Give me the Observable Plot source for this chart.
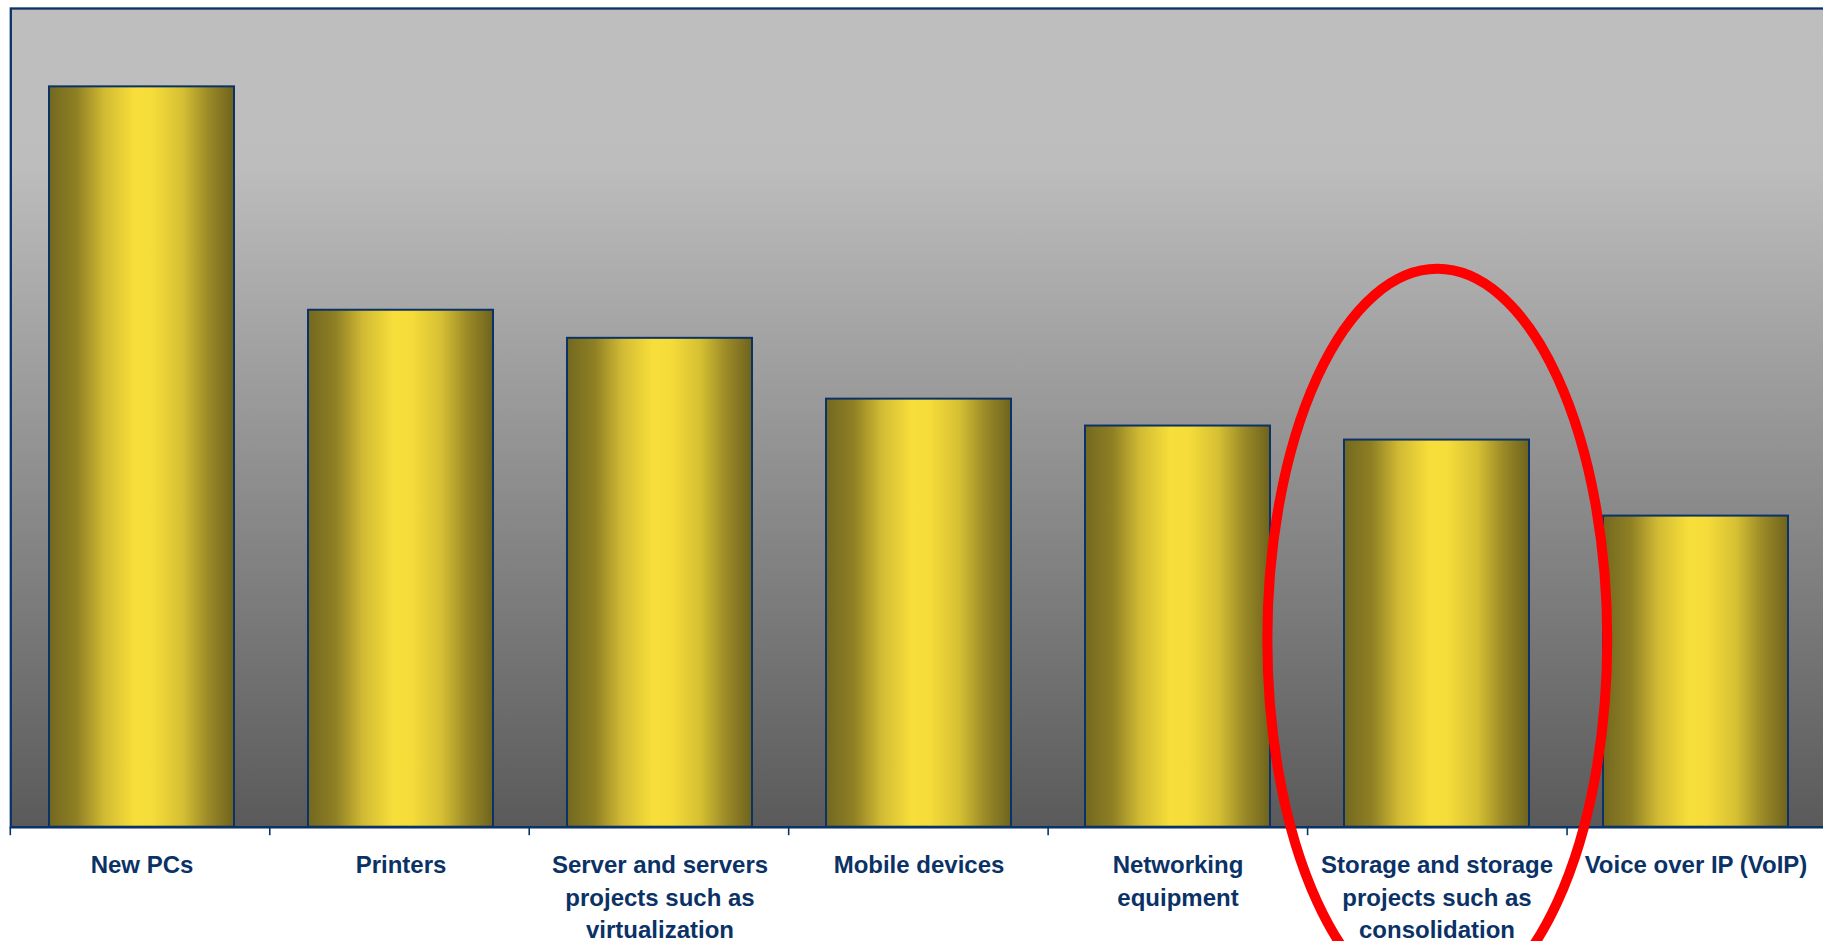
<!DOCTYPE html>
<html>
<head>
<meta charset="utf-8">
<script src="https://cdn.jsdelivr.net/npm/d3@7"></script>
<script src="https://cdn.jsdelivr.net/npm/@observablehq/plot@0.6"></script>
<style>
  html, body { margin: 0; padding: 0; background: #ffffff; overflow: hidden; }
  #chart svg { display: block; }
</style>
</head>
<body>
<div id="chart"></div>
<script>
// ---- data ----
const categories = [
  "New PCs",
  "Printers",
  "Server and servers projects such as virtualization",
  "Mobile devices",
  "Networking equipment",
  "Storage and storage projects such as consolidation",
  "Voice over IP (VoIP)"
];
const values = [63.3, 44.2, 41.8, 36.6, 34.3, 33.1, 26.6];
const tickLabels = [
  "New PCs",
  "Printers",
  "Server and servers\nprojects such as\nvirtualization",
  "Mobile devices",
  "Networking\nequipment",
  "Storage and storage\nprojects such as\nconsolidation",
  "Voice over IP (VoIP)"
];
// highlight annotation (in data units)
const highlightCategory = categories[5];
const highlightCenterValue = 16;
const highlightRadiusValue = 31.7;
const highlightWidthSteps = 0.655;

const navy = "#0b3266";
const rows = categories.map((c, i) => ({category: c, value: values[i], label: tickLabels[i]}));

const chart = Plot.plot({
  width: 1823,
  height: 941,
  marginTop: 8,
  marginLeft: 10.3,
  marginRight: -3.5,
  marginBottom: 114.3,
  style: {fontFamily: "'Liberation Sans', Arial, sans-serif", background: "transparent"},
  x: {domain: categories, paddingInner: 0.286, paddingOuter: 0.143, align: 0.5, axis: null},
  y: {domain: [0, 70], axis: null},
  marks: [
    Plot.frame({fill: "url(#bgGrad)", stroke: navy, strokeWidth: 2.3}),
    Plot.barY(rows, {x: "category", y: "value", fill: "url(#barGrad)", stroke: navy, strokeWidth: 2}),
    Plot.ruleY([0], {stroke: navy, strokeWidth: 2.2}),
    Plot.axisX({
      tickSize: 0,
      tickPadding: 23,
      tickFormat: (d) => tickLabels[categories.indexOf(d)],
      fontSize: 24,
      fontWeight: "bold",
      fill: navy,
      lineHeight: 1.35,
      label: null
    })
  ]
});

document.getElementById("chart").appendChild(chart);

// gradients
const svg = d3.select(chart);
const defs = svg.insert("defs", ":first-child");
const bg = defs.append("linearGradient").attr("id", "bgGrad").attr("x1", 0).attr("y1", 0).attr("x2", 0).attr("y2", 1);
[[0, "#bebebe"], [0.19, "#bdbdbd"], [1, "#5a5a5a"]].forEach(([o, c]) => bg.append("stop").attr("offset", o).attr("stop-color", c));
const bar = defs.append("linearGradient").attr("id", "barGrad").attr("x1", 0).attr("y1", 0).attr("x2", 1).attr("y2", 0);
[[0, "#736820"], [0.15, "#8f8024"], [0.3, "#d2bb34"], [0.46, "#f7de3a"], [0.56, "#f6dc3a"], [0.72, "#d6c033"], [0.86, "#9b8a27"], [1, "#6e631e"]]
  .forEach(([o, c]) => bar.append("stop").attr("offset", o).attr("stop-color", c));

// scales from the plot
const xs = chart.scale("x");
const ys = chart.scale("y");
const xb = d3.scaleBand(xs.domain, xs.range).paddingInner(xs.paddingInner).paddingOuter(xs.paddingOuter).align(xs.align ?? 0.5);
const yf = ys.apply ? (v) => ys.apply(v) : d3.scaleLinear(ys.domain, ys.range);
const step = xb.step();
const bw = xb.bandwidth();
const y0 = yf(0);

// ticks at category boundaries
const g = svg.append("g").attr("stroke", navy).attr("stroke-width", 1.6);
for (let k = 0; k <= categories.length; k++) {
  const xpos = xb(categories[0]) - (step - bw) / 2 + k * step;
  g.append("line").attr("x1", xpos).attr("x2", xpos).attr("y1", y0).attr("y2", y0 + 8.5);
}

// highlight ellipse
const cx = xb(highlightCategory) + bw / 2;
const cy = yf(highlightCenterValue);
const ry = Math.abs(yf(highlightCenterValue + highlightRadiusValue) - cy);
svg.append("ellipse")
  .attr("cx", cx).attr("cy", cy)
  .attr("rx", highlightWidthSteps * step).attr("ry", ry)
  .attr("fill", "none").attr("stroke", "#ff0000").attr("stroke-width", 10);
</script>
</body>
</html>
